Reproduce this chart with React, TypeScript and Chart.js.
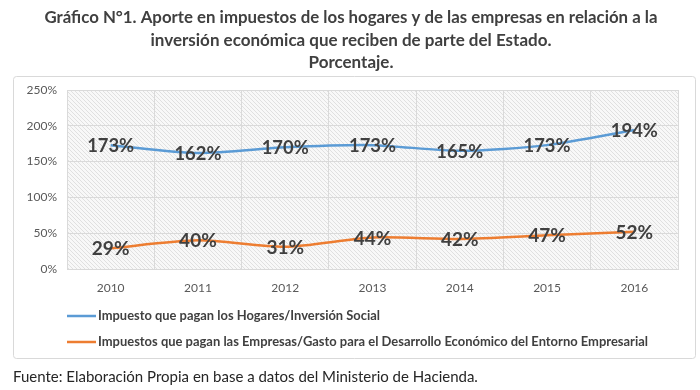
import React, { useEffect, useRef } from "react";
import { Chart, registerables } from "chart.js";
Chart.register(...registerables);

const years = ["2010", "2011", "2012", "2013", "2014", "2015", "2016"];
const hogares = [173, 162, 170, 173, 165, 173, 194];
const empresas = [29, 40, 31, 44, 42, 47, 52];
const seriesNames = [
  "Impuesto que pagan los Hogares/Inversión Social",
  "Impuestos que pagan las Empresas/Gasto para el Desarrollo Económico del Entorno Empresarial",
];
const seriesColors = ["#5B9BD5", "#ED7D31"];
const titleLines = [
  "Gráfico N°1. Aporte en impuestos de los hogares y de las empresas en relación a la",
  "inversión económica que reciben de parte del Estado.",
  "Porcentaje.",
];
const footerText = "Fuente: Elaboración Propia en base a datos del Ministerio de Hacienda.";

const FONT = "Lato, 'Open Sans', sans-serif";

function makePattern(): CanvasPattern | string {
  const c = document.createElement("canvas");
  c.width = 4;
  c.height = 4;
  const g = c.getContext("2d");
  if (!g) return "#f0f0f0";
  g.fillStyle = "#f8f8f8";
  g.fillRect(0, 0, 4, 4);
  g.strokeStyle = "#e0e0e0";
  g.lineWidth = 1;
  g.beginPath();
  g.moveTo(-1, -1);
  g.lineTo(5, 5);
  g.moveTo(-1, 3);
  g.lineTo(1, 5);
  g.moveTo(3, -1);
  g.lineTo(5, 1);
  g.stroke();
  const p = g.createPattern(c, "repeat");
  return p || "#f0f0f0";
}

export default function App() {
  const ref = useRef<HTMLCanvasElement>(null);

  useEffect(() => {
    if (!ref.current) return;
    const pattern = makePattern();

    const deco = {
      id: "deco",
      beforeDraw(chart: any) {
        const { ctx, chartArea: a } = chart;
        ctx.save();
        ctx.fillStyle = "#ffffff";
        ctx.fillRect(0, 0, chart.width, chart.height);
        // title
        ctx.fillStyle = "#404040";
        ctx.font = `bold 17px ${FONT}`;
        ctx.textAlign = "center";
        ctx.textBaseline = "middle";
        const ty = [18, 41, 63];
        const tw = [613, 402, 108];
        titleLines.forEach((t, i) => ctx.fillText(t, 351, ty[i], tw[i]));
        // border
        ctx.strokeStyle = "#d9d9d9";
        ctx.lineWidth = 1;
        ctx.beginPath();
        (ctx as any).roundRect(13.5, 76.5, 682, 282, 3);
        ctx.stroke();
        // hatched plot area
        ctx.fillStyle = pattern;
        ctx.fillRect(a.left, a.top, a.right - a.left, a.bottom - a.top);
        ctx.restore();
      },
      afterDatasetsDraw(chart: any) {
        const { ctx } = chart;
        ctx.save();
        ctx.fillStyle = "#404040";
        ctx.font = `bold 19px ${FONT}`;
        ctx.textAlign = "center";
        ctx.textBaseline = "middle";
        chart.data.datasets.forEach((ds: any, i: number) => {
          const meta = chart.getDatasetMeta(i);
          meta.data.forEach((p: any, j: number) => {
            ctx.fillText(ds.data[j] + "%", p.x, p.y + 1, 47);
          });
        });
        ctx.restore();
      },
      afterDraw(chart: any) {
        const { ctx } = chart;
        ctx.save();
        const ly = [316, 342];
        const lw = [282, 550];
        chart.data.datasets.forEach((ds: any, i: number) => {
          ctx.strokeStyle = ds.borderColor;
          ctx.lineWidth = 2.5;
          ctx.beginPath();
          ctx.moveTo(67, ly[i]);
          ctx.lineTo(96, ly[i]);
          ctx.stroke();
          ctx.fillStyle = "#404040";
          ctx.font = `bold 13px ${FONT}`;
          ctx.textAlign = "left";
          ctx.textBaseline = "middle";
          ctx.fillText(ds.label, 98, ly[i], lw[i]);
        });
        ctx.fillStyle = "#262626";
        ctx.font = `15px ${FONT}`;
        ctx.textAlign = "left";
        ctx.textBaseline = "middle";
        ctx.fillText(footerText, 13, 377, 492);
        ctx.restore();
      },
    };

    const chart = new Chart(ref.current, {
      type: "line",
      data: {
        labels: years,
        datasets: [
          {
            label: seriesNames[0],
            data: hogares,
            borderColor: seriesColors[0],
            backgroundColor: seriesColors[0],
            borderWidth: 2.5,
            pointRadius: 0,
            tension: 0.25,
          },
          {
            label: seriesNames[1],
            data: empresas,
            borderColor: seriesColors[1],
            backgroundColor: seriesColors[1],
            borderWidth: 2.5,
            pointRadius: 0,
            tension: 0.25,
          },
        ],
      },
      options: {
        responsive: false,
        animation: false,
        events: [],
        layout: { padding: { left: 13, top: 90, right: 22, bottom: 91 } },
        plugins: {
          legend: { display: false },
          tooltip: { enabled: false },
          title: { display: false },
        },
        scales: {
          x: {
            offset: true,
            grid: { color: "#dadada", offset: true, drawTicks: false },
            border: { color: "#d9d9d9" },
            ticks: {
              color: "#595959",
              font: { family: FONT, size: 12 },
              padding: 12,
              maxRotation: 0,
            },
            afterFit: (s: any) => {
              s.height = 30;
            },
          },
          y: {
            min: 0,
            max: 250,
            grid: { color: "#dadada", drawTicks: false },
            border: { display: false },
            ticks: {
              stepSize: 50,
              color: "#595959",
              font: { family: FONT, size: 12 },
              padding: 10,
              callback: (v: any) => v + "%",
            },
            afterFit: (s: any) => {
              s.width = 54;
            },
          },
        },
      },
      plugins: [deco],
    } as any);
    return () => chart.destroy();
  }, []);

  return (
    <div style={{ position: "absolute", left: 0, top: 0, width: 700, height: 390 }}>
      <canvas ref={ref} width={700} height={390} />
    </div>
  );
}
